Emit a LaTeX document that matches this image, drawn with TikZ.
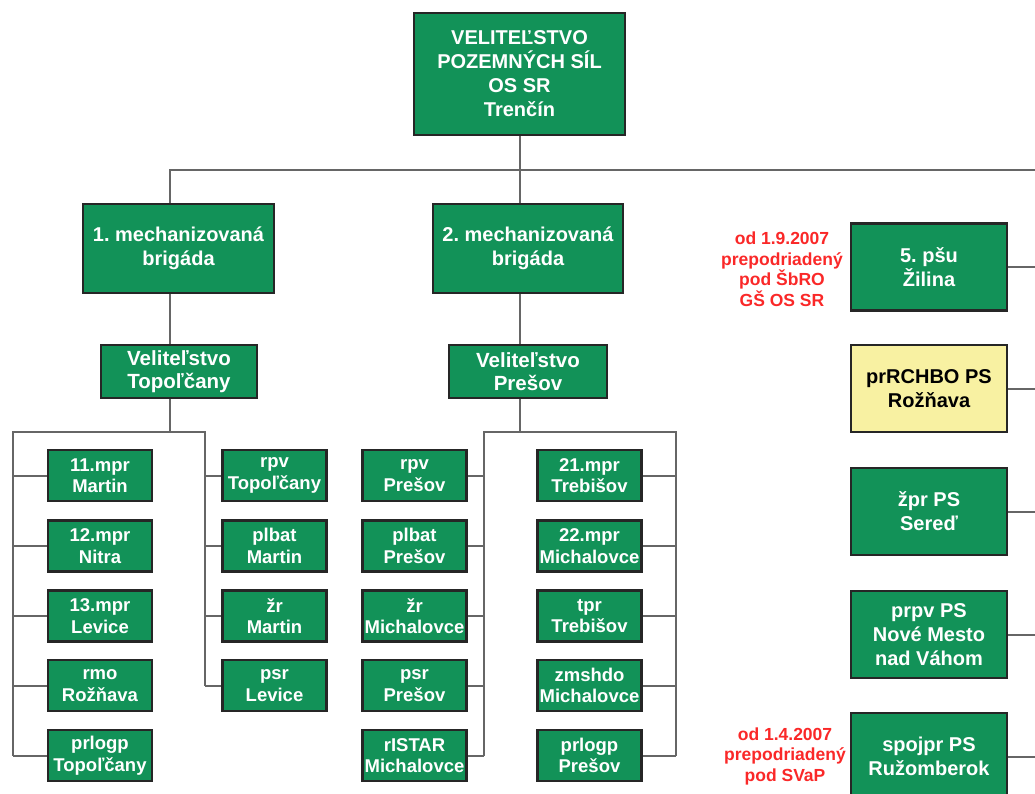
\documentclass[tikz,border=0pt]{standalone}
\usepackage{fontspec}
\setmainfont{Liberation Sans}
\frenchspacing
\definecolor{armygreen}{RGB}{18,146,88}
\definecolor{paleyellow}{RGB}{248,241,162}
\definecolor{notered}{RGB}{250,40,40}
\tikzset{
  unit/.style={draw=black!85, line width=2.4pt, fill=armygreen, text=white,
    align=center, inner sep=0pt, font=\bfseries\fontsize{20}{24}\selectfont},
  small/.style={unit, minimum width=104pt, minimum height=51pt,
    font=\bfseries\fontsize{18.5}{21.5}\selectfont},
  side/.style={unit, minimum width=156pt, minimum height=87pt},
  note/.style={text=notered, align=center, font=\bfseries\fontsize{17.5}{20.5}\selectfont},
  link/.style={draw=black!60, line width=2pt}
}
\begin{document}
\begin{tikzpicture}[x=1pt,y=-1pt]
\useasboundingbox (0,0) rectangle (1035,793);

% command levels
\node[unit, minimum width=211pt, minimum height=122pt] (vps) at (519.5,74)
  {VELITEĽSTVO\\POZEMNÝCH SÍL\\OS SR\\Trenčín};
\node[unit, minimum width=191pt, minimum height=89pt] (mb1) at (178.5,248.5) {1. mechanizovaná\\brigáda};
\node[unit, minimum width=190pt, minimum height=89pt] (mb2) at (528,248.5) {2. mechanizovaná\\brigáda};
\node[unit, minimum width=156pt, minimum height=53pt, font=\bfseries\fontsize{20.5}{23}\selectfont] (vto) at (179,371.5) {Veliteľstvo\\Topoľčany};
\node[unit, minimum width=158pt, minimum height=53pt, font=\bfseries\fontsize{20.5}{23}\selectfont] (vpo) at (528,371.5) {Veliteľstvo\\Prešov};

% 1. mb units
\node[small] (mpr11) at (100,475.5) {11.mpr\\Martin};
\node[small] (mpr12) at (100,546) {12.mpr\\Nitra};
\node[small] (mpr13) at (100,616) {13.mpr\\Levice};
\node[small] (rmo) at (100,685.5) {rmo\\Rožňava};
\node[small] (plogt) at (100,755.5) {prlogp\\Topoľčany};
\node[small] (rpvt) at (274.5,475.5) {rpv\\Topoľčany};
\node[small] (plbm) at (274.5,546) {plbat\\Martin};
\node[small] (zrm) at (274.5,616) {žr\\Martin};
\node[small] (psrl) at (274.5,685.5) {psr\\Levice};

% 2. mb units
\node[small] (rpvp) at (414.5,475.5) {rpv\\Prešov};
\node[small] (plbp) at (414.5,546) {plbat\\Prešov};
\node[small] (zrmi) at (414.5,616) {žr\\Michalovce};
\node[small] (psrp) at (414.5,685.5) {psr\\Prešov};
\node[small] (istar) at (414.5,755.5) {rISTAR\\Michalovce};
\node[small] (mpr21) at (589.5,475.5) {21.mpr\\Trebišov};
\node[small] (mpr22) at (589.5,546) {22.mpr\\Michalovce};
\node[small] (tpr) at (589.5,616) {tpr\\Trebišov};
\node[small] (zmsh) at (589.5,685.5) {zmshdo\\Michalovce};
\node[small] (plogp) at (589.5,755.5) {prlogp\\Prešov};

% directly subordinated
\node[side] (psu) at (929,267) {5. pšu\\Žilina};
\node[side, fill=paleyellow, text=black] (rchbo) at (929,388.5) {prRCHBO PS\\Rožňava};
\node[side] (zpr) at (929,511.5) {žpr PS\\Sereď};
\node[side] (prpv) at (929,634.5) {prpv PS\\Nové Mesto\\nad Váhom};
\node[side] (spoj) at (929,756.5) {spojpr PS\\Ružomberok};

\node[note] (n1) at (782,269) {od 1.9.2007\\prepodriadený\\pod ŠbRO\\GŠ OS SR};
\node[note] (n2) at (785,756) {od 1.4.2007\\prepodriadený\\pod SVaP};

% lines
\coordinate (j1) at (170,170);
\coordinate (jend) at (1035,170);
\draw[link] (vps.south) -- (vps.south |- mb2.north);
\draw[link] (j1 |- mb1.north) |- (jend);
\draw[link] (mb1.south -| j1) -- (vto.north -| j1);
\draw[link] (mb2.south -| vps.south) -- (vpo.north -| vps.south);

\coordinate (tl) at (13,432);
\coordinate (tr) at (205,432);
\draw[link] (vto.south -| j1) -- (j1 |- tl);
\draw[link] (tl |- plogt.west) -- (tl) -- (tr) -- (tr |- psrl.west);
\foreach \n in {mpr11,mpr12,mpr13,rmo,plogt}
  \draw[link] (tl |- \n.west) -- (\n.west);
\foreach \n in {rpvt,plbm,zrm,psrl}
  \draw[link] (tr |- \n.west) -- (\n.west);

\coordinate (pl) at (484,432);
\coordinate (pr) at (676,432);
\draw[link] (vpo.south -| vps.south) -- (vps.south |- pl);
\draw[link] (pl |- istar.east) -- (pl) -- (pr) -- (pr |- plogp.east);
\foreach \n in {rpvp,plbp,zrmi,psrp,istar}
  \draw[link] (pl |- \n.east) -- (\n.east);
\foreach \n in {mpr21,mpr22,tpr,zmsh,plogp}
  \draw[link] (pr |- \n.east) -- (\n.east);

\foreach \n in {psu,rchbo,zpr,prpv,spoj}
  \draw[link] (\n.east) -- (\n.east -| jend);
\end{tikzpicture}
\end{document}
